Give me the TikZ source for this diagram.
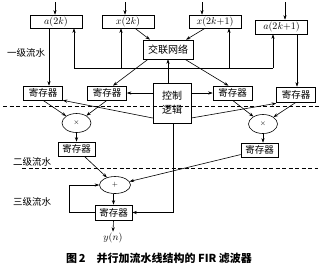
\documentclass[tikz,border=0pt]{standalone}
\usepackage{fontspec}
\newfontfamily\cjk{Noto Sans CJK SC}
\usetikzlibrary{arrows.meta,shapes.geometric}
\begin{document}
\begin{tikzpicture}[x=1pt, y=-1pt, line width=0.6pt,
  >={Stealth[length=4.5pt,width=3.2pt]},
  box/.style={draw, inner sep=0pt, minimum width=52pt, minimum height=13pt, font=\normalsize},
  reg/.style={draw, inner sep=0pt, minimum width=39pt, minimum height=14pt, font=\cjk\fontsize{9.5}{11}\selectfont},
  op/.style={draw, ellipse, inner sep=0pt, minimum width=29pt, minimum height=19pt, font=\scriptsize},
  stage/.style={font=\cjk\fontsize{9.5}{11}\selectfont, inner sep=1pt},
  sep/.style={dashed, dash pattern=on 4pt off 2.5pt, line width=0.5pt}]
  \useasboundingbox (0,0) rectangle (320,269);
  % inputs and coefficient stores
  \node[box] (a2k) at (56,21.5) {$a(2k)$};
  \node[box] (x2k) at (128,21.5) {$x(2k)$};
  \node[box] (x2k1) at (215,21.5) {$x(2k{+}1)$};
  \node[box, minimum height=14pt] (a2k1) at (281.5,27) {$a(2k{+}1)$};
  \coordinate (inA) at (55,2);
  \coordinate (inB) at (125,2);
  \coordinate (inC) at (202,2);
  \coordinate (inD) at (285,2);
  \draw[->] (inA) -- (inA |- a2k.north);
  \draw[->] (inB) -- (inB |- x2k.north);
  \draw[->] (inC) -- (inC |- x2k1.north);
  \draw[->] (inD) -- (inD |- a2k1.north);
  \node[draw, inner sep=0pt, minimum width=50pt, minimum height=19pt, font=\cjk\fontsize{10}{12}\selectfont] (net) at (168,49.5) {交联网络};
  \node[draw, inner sep=0pt, minimum width=38pt, minimum height=40pt, align=center, font=\cjk\fontsize{10}{14}\selectfont] (ctrl) at (172,103) {控制\\逻辑};
  % address bus
  \coordinate (busL) at (74,68);
  \coordinate (busR) at (273,68);
  \draw (busL) -- (busR);
  \draw[->] (busL) -- (busL |- a2k.south);
  \draw[->] ([xshift=-7pt]x2k.south |- busL) -- ([xshift=-7pt]x2k.south);
  \draw[->] ([xshift=14pt]x2k1.south |- busL) -- ([xshift=14pt]x2k1.south);
  \draw[->] (busR) -- (busR |- a2k1.south);
  \draw[->] (ctrl.north -| net.south) -- (net.south);
  % first stage registers
  \node[reg] (r1) at (43,93) {寄存器};
  \node[reg] (r2) at (107,93) {寄存器};
  \node[reg] (r3) at (232.5,93) {寄存器};
  \node[reg, minimum height=15pt] (r4) at (296,94.5) {寄存器};
  \draw[->] ([xshift=7pt]x2k.south) -- ([xshift=-18pt]net.north);
  \draw[->] ([xshift=-10pt]x2k1.south) -- ([xshift=18pt]net.north);
  \draw[->] ([xshift=-20pt]net.south) -- ([xshift=6pt]r2.north);
  \draw[->] ([xshift=17pt]net.south) -- ([xshift=-4pt]r3.north);
  \draw[->] ([xshift=6pt]r1.north |- a2k.south) -- ([xshift=6pt]r1.north);
  \draw[->] ([xshift=1pt]r4.north |- a2k1.south) -- ([xshift=1pt]r4.north);
  \draw[->] (ctrl.west |- r2) -- (r2.east);
  \draw[->] (ctrl.east |- r3) -- (r3.west);
  \draw[->] ([yshift=-15pt]ctrl.west) -- (r1.south east);
  \draw[->] ([yshift=-15pt]ctrl.east) -- ([yshift=-1pt]r4.south west);
  \node[stage] (lab1) at (26,53) {一级流水};
  \coordinate (d1L) at (3,106.5);
  \coordinate (d1R) at (320,106.5);
  \draw[sep] (d1L) -- (d1R);
  % multipliers
  \node[op] (m1) at (76.5,123) {$\times$};
  \node[op] (m2) at (263,124) {$\times$};
  \draw[->] (r1.south) -- (m1);
  \draw[->] (r2.south) -- (m1);
  \draw[->] (r3.south) -- (m2);
  \draw[->] (r4.south) -- (m2);
  % second stage
  \node[reg, minimum width=37pt] (s1) at (76.5,149) {寄存器};
  \node[reg, minimum width=37pt] (s2) at (259.5,150) {寄存器};
  \draw[->] (m1.south) -- (m1.south |- s1.north);
  \draw[->] (m2.south) -- (m2.south |- s2.north);
  \node[stage] (lab2) at (32,162) {二级流水};
  \coordinate (d2L) at (22,168.5);
  \coordinate (d2R) at (318,168.5);
  \draw[sep] (d2L) -- (d2R);
  % adder and output register
  \node[op, minimum width=31pt, minimum height=17pt] (ad) at (115,185) {$+$};
  \draw[->] (s1) -- (ad);
  \draw[->] (s2) -- (ad);
  \node[reg, minimum width=37pt, minimum height=15pt] (fin) at (113.5,212.5) {寄存器};
  \draw[->] (ad.south -| fin.north) -- (fin.north);
  \draw[->] (fin.west) -- ++(-25,0) |- (ad.west);
  \draw[->] ([xshift=1pt]ctrl.south) |- (fin.east);
  \node[stage] (lab3) at (32,202) {三级流水};
  \node[inner sep=1pt, font=\normalsize] (yn) at (113,238) {$y(n)$};
  \draw[->] (fin.south) -- (yn.north);
  \node[font=\cjk\bfseries\fontsize{11}{13}\selectfont, inner sep=0pt] (cap) at (159,258) {图\,2\quad 并行加流水线结构的 FIR 滤波器};
\end{tikzpicture}
\end{document}
